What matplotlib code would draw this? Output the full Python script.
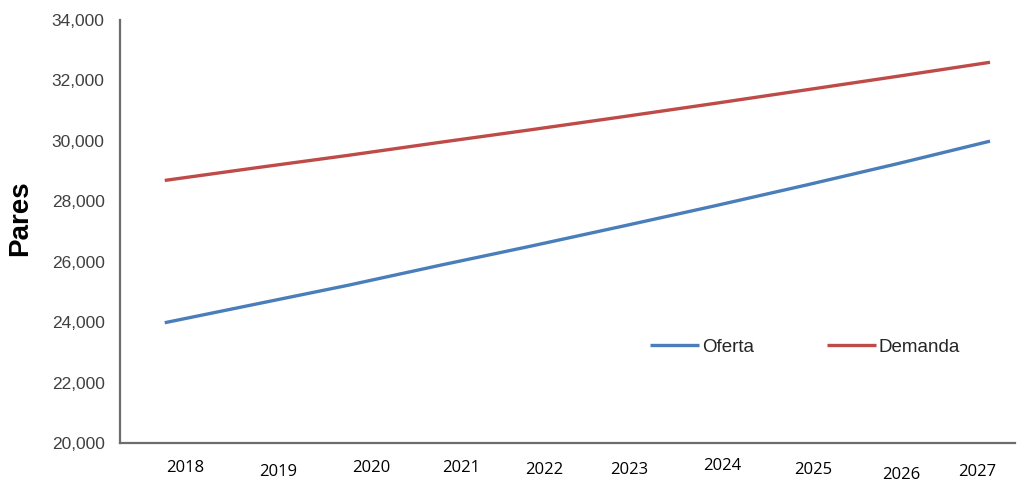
import matplotlib.pyplot as plt
from matplotlib.transforms import offset_copy

years = [2018, 2019, 2020, 2021, 2022, 2023, 2024, 2025, 2026, 2027]
oferta = [23980, 24600, 25220, 25880, 26520, 27180, 27850, 28540, 29250, 29990]
demanda = [28690, 29110, 29520, 29950, 30370, 30800, 31240, 31690, 32140, 32600]
yticks = [20000, 22000, 24000, 26000, 28000, 30000, 32000, 34000]

# the year labels in the original are pasted in by hand, slightly off their points
label_dx = [20, 22, 23, 21, 13, 6, 7, 7, 3, -13]
label_dy = [-25, -29, -25, -25, -27, -27, -23, -27, -32, -29]

fig = plt.figure(figsize=(10.24, 4.82), dpi=100)
ax = fig.add_axes([0.117, 0.081, 0.874, 0.8775])

ax.plot(years, oferta, color='#4A7EBB', lw=2.4, label='Oferta', solid_capstyle='butt')
ax.plot(years, demanda, color='#BE4B48', lw=2.4, label='Demanda', solid_capstyle='butt')

ax.set_xlim(2017.51, 2027.27)
ax.set_ylim(20000, 34000)
ax.set_yticks(yticks)
ax.set_yticklabels([f'{v:,}' for v in yticks], family='Liberation Sans', fontsize=12.5, color='#404040')
ax.tick_params(axis='y', length=0, pad=11)
ax.set_xticks([])

for y, dx, dy in zip(years, label_dx, label_dy):
    tr = offset_copy(ax.get_xaxis_transform(), fig=fig, x=dx, y=dy, units='dots')
    ax.text(y, 0, str(y), transform=tr, ha='center', va='center',
            family='Open Sans', fontsize=12, color='black')

for s in ['top', 'right']:
    ax.spines[s].set_visible(False)
for s in ['left', 'bottom']:
    ax.spines[s].set_color('#6d6d6d')
    ax.spines[s].set_linewidth(1.6)

ax.set_ylabel('Pares', family='Liberation Sans', fontsize=20, fontweight='bold')
ax.yaxis.set_label_coords(-0.097, 0.532)

leg = ax.legend(loc='upper left', bbox_to_anchor=(0.574, 0.287), ncol=2, frameon=False,
                handlelength=2.6, handletextpad=0.15, columnspacing=3.9,
                prop={'family': 'Liberation Sans', 'size': 13.5})
for t in leg.get_texts():
    t.set_color('#262626')

fig.savefig('out.png', dpi=100)
